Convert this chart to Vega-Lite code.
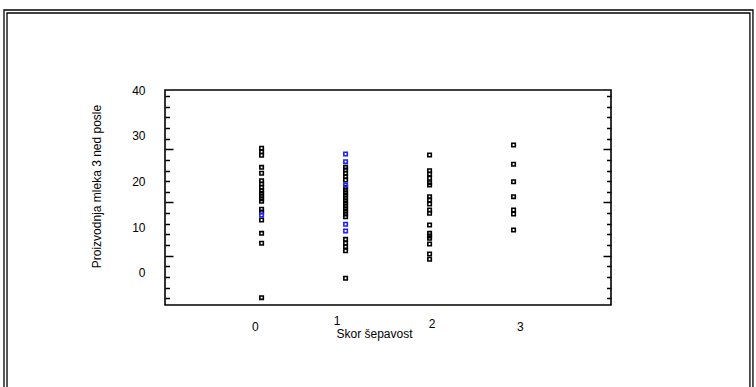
{
  "$schema": "https://vega.github.io/schema/vega-lite/v6.json",
  "width": 446,
  "height": 215,
  "autosize": "none",
  "padding": {"left": 165, "top": 90, "right": 145, "bottom": 82},
  "background": "white",
  "config": {
    "view": {"stroke": "black", "strokeWidth": 1.6},
    "axis": {
      "grid": false,
      "labelFont": "Liberation Sans",
      "titleFont": "Liberation Sans",
      "labelColor": "black",
      "titleColor": "black",
      "labelFontSize": 12,
      "titleFontSize": 12,
      "titleFontWeight": "normal",
      "tickColor": "black",
      "tickWidth": 1.5
    }
  },
  "datasets": {
    "pts": [
      {"score": 0, "milk": 27.26, "c": "k"},
      {"score": 0, "milk": 26.51, "c": "k"},
      {"score": 0, "milk": 25.73, "c": "k"},
      {"score": 0, "milk": 23.10, "c": "k"},
      {"score": 0, "milk": 21.79, "c": "k"},
      {"score": 0, "milk": 20.17, "c": "k"},
      {"score": 0, "milk": 19.45, "c": "k"},
      {"score": 0, "milk": 18.73, "c": "k"},
      {"score": 0, "milk": 17.99, "c": "k"},
      {"score": 0, "milk": 17.42, "c": "k"},
      {"score": 0, "milk": 16.83, "c": "k"},
      {"score": 0, "milk": 16.24, "c": "k"},
      {"score": 0, "milk": 15.67, "c": "k"},
      {"score": 0, "milk": 13.92, "c": "k"},
      {"score": 0, "milk": 13.33, "c": "k"},
      {"score": 0, "milk": 11.58, "c": "k"},
      {"score": 0, "milk": 8.67, "c": "k"},
      {"score": 0, "milk": 6.49, "c": "k"},
      {"score": 0, "milk": -5.40, "c": "k"},
      {"score": 1, "milk": 23.10, "c": "k"},
      {"score": 1, "milk": 22.51, "c": "k"},
      {"score": 1, "milk": 21.79, "c": "k"},
      {"score": 1, "milk": 21.05, "c": "k"},
      {"score": 1, "milk": 20.33, "c": "k"},
      {"score": 1, "milk": 18.73, "c": "k"},
      {"score": 1, "milk": 18.14, "c": "k"},
      {"score": 1, "milk": 17.55, "c": "k"},
      {"score": 1, "milk": 16.98, "c": "k"},
      {"score": 1, "milk": 16.39, "c": "k"},
      {"score": 1, "milk": 15.80, "c": "k"},
      {"score": 1, "milk": 15.23, "c": "k"},
      {"score": 1, "milk": 14.64, "c": "k"},
      {"score": 1, "milk": 14.05, "c": "k"},
      {"score": 1, "milk": 13.48, "c": "k"},
      {"score": 1, "milk": 12.89, "c": "k"},
      {"score": 1, "milk": 12.30, "c": "k"},
      {"score": 1, "milk": 7.36, "c": "k"},
      {"score": 1, "milk": 6.49, "c": "k"},
      {"score": 1, "milk": 5.75, "c": "k"},
      {"score": 1, "milk": 4.87, "c": "k"},
      {"score": 1, "milk": -1.16, "c": "k"},
      {"score": 2, "milk": 25.79, "c": "k"},
      {"score": 2, "milk": 22.36, "c": "k"},
      {"score": 2, "milk": 21.64, "c": "k"},
      {"score": 2, "milk": 20.70, "c": "k"},
      {"score": 2, "milk": 19.74, "c": "k"},
      {"score": 2, "milk": 19.23, "c": "k"},
      {"score": 2, "milk": 16.68, "c": "k"},
      {"score": 2, "milk": 15.95, "c": "k"},
      {"score": 2, "milk": 15.08, "c": "k"},
      {"score": 2, "milk": 13.77, "c": "k"},
      {"score": 2, "milk": 13.05, "c": "k"},
      {"score": 2, "milk": 10.49, "c": "k"},
      {"score": 2, "milk": 8.67, "c": "k"},
      {"score": 2, "milk": 8.08, "c": "k"},
      {"score": 2, "milk": 7.58, "c": "k"},
      {"score": 2, "milk": 6.34, "c": "k"},
      {"score": 2, "milk": 4.15, "c": "k"},
      {"score": 2, "milk": 2.99, "c": "k"},
      {"score": 3, "milk": 27.98, "c": "k"},
      {"score": 3, "milk": 23.76, "c": "k"},
      {"score": 3, "milk": 19.95, "c": "k"},
      {"score": 3, "milk": 16.68, "c": "k"},
      {"score": 3, "milk": 13.77, "c": "k"},
      {"score": 3, "milk": 12.89, "c": "k"},
      {"score": 3, "milk": 9.40, "c": "k"},
      {"score": 0, "milk": 12.67, "c": "b"},
      {"score": 1, "milk": 26.01, "c": "b"},
      {"score": 1, "milk": 24.33, "c": "b"},
      {"score": 1, "milk": 19.23, "c": "b"},
      {"score": 1, "milk": 10.64, "c": "b"},
      {"score": 1, "milk": 9.18, "c": "b"}
    ]
  },
  "layer": [
    {
      "data": {"values": [{}]},
      "mark": {"type": "rect", "fillOpacity": 0, "stroke": "black", "strokeWidth": 1.3},
      "encoding": {
        "x": {"datum": -3.067, "type": "quantitative", "axis": null},
        "x2": {"datum": 5.85},
        "y": {"datum": 57.49, "type": "quantitative", "axis": null},
        "y2": {"datum": -27.77}
      }
    },
    {
      "data": {"values": [{}]},
      "mark": {"type": "rect", "fillOpacity": 0, "stroke": "black", "strokeWidth": 1.3},
      "encoding": {
        "x": {"datum": -3.031, "type": "quantitative", "axis": null},
        "x2": {"datum": 5.814},
        "y": {"datum": 56.83, "type": "quantitative", "axis": null},
        "y2": {"datum": -27.77}
      }
    },
    {
      "data": {"name": "pts"},
      "mark": {"type": "point", "opacity": 0},
      "encoding": {
        "x": {"field": "score", "type": "quantitative", "axis": null},
        "y": {
          "field": "milk",
          "type": "quantitative",
          "axis": {
            "orient": "left",
            "values": [38.69, 36.36, 34.03, 31.70, 29.38, 27.05, 24.72, 22.39, 20.06, 17.74, 15.41, 13.08, 10.75, 8.42, 6.09, 3.77, 1.44, -0.89, -3.22, -5.55],
            "labels": false,
            "domain": false,
            "title": null,
            "tickSize": {"condition": {"test": "abs(datum.value - 27.05) < 0.01 || abs(datum.value - 15.41) < 0.01 || abs(datum.value - 3.77) < 0.01", "value": -8}, "value": -4.5}
          }
        }
      }
    },
    {
      "data": {"name": "pts"},
      "mark": {"type": "point", "opacity": 0},
      "encoding": {
        "x": {"field": "score", "type": "quantitative", "axis": null},
        "y": {
          "field": "milk",
          "type": "quantitative",
          "axis": {
            "orient": "right",
            "values": [38.69, 36.36, 34.03, 31.70, 29.38, 27.05, 24.72, 22.39, 20.06, 17.74, 15.41, 13.08, 10.75, 8.42, 6.09, 3.77, 1.44, -0.89, -3.22, -5.55],
            "labels": false,
            "domain": false,
            "title": null,
            "tickSize": {"condition": {"test": "abs(datum.value - 27.05) < 0.01 || abs(datum.value - 15.41) < 0.01 || abs(datum.value - 3.77) < 0.01", "value": -8}, "value": -4.5}
          }
        }
      }
    },
    {
      "data": {"name": "pts"},
      "mark": {"type": "point", "shape": "square", "filled": false, "size": 12, "strokeWidth": 1.6, "opacity": 1},
      "encoding": {
        "x": {
          "field": "score",
          "type": "quantitative",
          "scale": {"domain": [-1.15, 4.16], "nice": false, "zero": false},
          "axis": {
            "orient": "bottom",
            "values": [-0.079, 0.894, 2.025, 3.076],
            "labelExpr": "'' + round(datum.value)",
            "ticks": false,
            "domain": false,
            "labelFlush": false,
            "labelOverlap": false,
            "labelPadding": {"condition": [{"test": "datum.value > 0.5 && datum.value < 1.5", "value": 10}, {"test": "datum.value > 1.5 && datum.value < 2.5", "value": 13}], "value": 16},
            "title": "Skor šepavost",
            "titleX": 209,
            "titleY": 28,
            "titleBaseline": "middle"
          }
        },
        "y": {
          "field": "milk",
          "type": "quantitative",
          "scale": {"domain": [-7, 40], "nice": false, "zero": false},
          "axis": {
            "orient": "left",
            "values": [0, 10, 20, 30, 40],
            "ticks": false,
            "tickSize": 0,
            "domain": false,
            "labelFlush": false,
            "labelPadding": 20,
            "title": "Proizvodnja mleka 3 ned posle",
            "titleX": -69,
            "titleY": 96,
            "titleBaseline": "middle"
          }
        },
        "color": {
          "field": "c",
          "type": "nominal",
          "scale": {"domain": ["k", "b"], "range": ["#000000", "#1f1fff"]},
          "legend": null
        }
      }
    }
  ],
  "resolve": {"axis": {"x": "independent", "y": "independent"}}
}
